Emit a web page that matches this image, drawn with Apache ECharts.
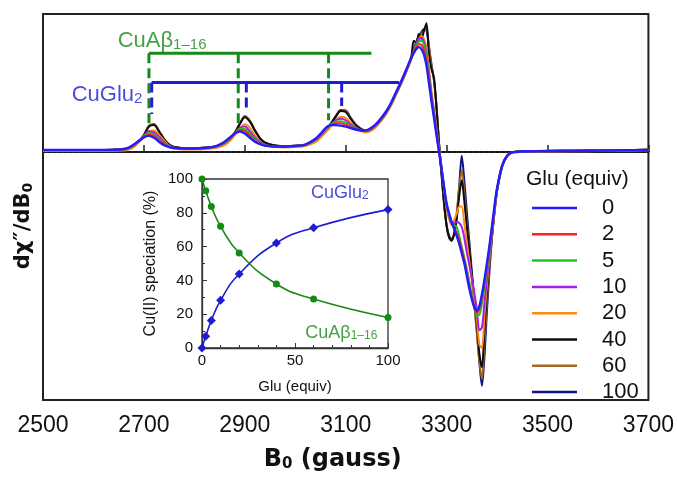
<!DOCTYPE html>
<html><head><meta charset="utf-8">
<script src="https://cdn.jsdelivr.net/npm/echarts@6/dist/echarts.min.js"></script>
<style>html,body{margin:0;padding:0;background:#fff}#c{width:677px;height:477px}</style>
</head><body><div id="c"></div>
<script>
// Magnetic field (gauss)
const field = [2500,2550,2600,2640,2660,2670,2680,2690,2700,2710,
2720,2730,2740,2750,2760,2780,2800,2820,2840,2850,
2860,2870,2880,2890,2900,2910,2920,2930,2940,2960,
2980,3000,3020,3040,3050,3060,3070,3080,3090,3100,
3110,3120,3130,3140,3150,3160,3170,3180,3190,3200,
3210,3220,3230,3235,3240,3245,3250,3255,3260,3265,
3270,3275,3280,3285,3290,3295,3300,3305,3310,3315,
3320,3325,3330,3335,3340,3345,3350,3355,3360,3365,
3370,3375,3380,3385,3390,3395,3400,3410,3420,3430,
3450,3500,3550,3600,3650,3700];

// EPR derivative spectra (arbitrary units), one per Glu equivalent
const glu0 = [2,2,2,2.2,3,4.5,7.5,11.5,15,16.5,
14.5,10.5,7,5,4,3.5,3.5,4,5.5,7.5,
10.5,14.5,19,21,19,14.5,10.5,8,6.5,5.5,
5.5,6,7.5,13.5,18.5,24.5,27.5,27.5,27,26,
24.5,23,22,22,24.5,28.5,34.5,41.5,50.5,61.5,
72.5,84.5,96.5,101.5,105.5,107.5,105.5,100,89,71,
52,35,17,0,-18,-36,-53,-63,-72,-79,
-86,-94,-104,-114,-127,-140,-151,-159,-163,-158,
-146,-131,-114,-96,-76,-55,-37,-14,-4,-0.5,
0.5,1,1,1.3,1.7,2];
const glu2 = [2,2,2,2.2,2.8,4.3,7.3,11.5,15.5,18,
16.5,12,8,5.5,4,3.5,3.5,4,5.5,7.3,
10,14,19,22.5,21.5,16.5,11.5,8.5,6.5,5.5,
5.5,6,7.5,13,18,24,28,29.5,29.5,28,
25.5,23.5,22,21.5,24,28,34,41,50,61,
72,84,96.5,102.5,107.5,110.5,110,105,94,75,
55,37,19,1,-18,-37,-54,-64,-72,-78,
-83,-90,-100,-111,-123,-137,-150,-160,-165,-161,
-150,-134,-117,-98,-78,-57,-38,-14,-4,-0.5,
0.6,1.1,1.2,1.5,1.9,2.3];
const glu5 = [2,2,2,2.2,2.7,4.1,7,11.2,16,19.5,
18,13.5,8.8,6,4.2,3.5,3.5,4,5.3,7,
9.5,13.5,19,23.5,23.5,18.5,13,9,7,5.5,
5.5,6,7.3,12.5,17.5,23,28,31,31.5,30,
26.5,24,22,21.5,23.5,27.5,33.5,40.5,49.5,60.5,
71.5,83.5,96.5,103,109,113,114,110,99,78,
57,39,20,2,-17,-37,-55,-65,-72,-75,
-77,-86,-97,-108,-120,-133,-147,-160,-168,-167,
-156,-139,-121,-101,-80,-58,-39,-15,-4,-0.5,
0.5,1,1.1,1.4,1.8,2.1];
const glu10 = [2,2,2,2.2,2.6,3.9,6.7,11,16.5,21,
20,15.5,10,6.5,4.4,3.5,3.5,3.9,5.1,6.8,
9.2,13,19,24.5,26,21,14.5,10,7.5,5.5,
5.5,6,7.2,12,17,22.5,28,32.5,34,32.5,
28,25,22.5,21.5,23,27,33,40,49,60,
71,83,96,104,111,116,117,113,102,81,
59,41,22,3,-16,-37,-56,-66,-73,-73,
-72,-73,-77,-88,-103,-116,-130,-145,-162,-183,
-180,-155,-130,-106,-83,-60,-40,-15,-4,-0.5,
0.5,1,1.1,1.4,1.8,2.1];
const glu20 = [1,1,1,1.2,1.4,2.4,5,9.5,15.5,21.5,
22,17.5,11.5,6.5,3.5,2.5,2.5,2.8,3.8,5,
7,11,17,24,28.5,25,17,10.5,7,5,
4.5,5,6,10,14.5,20,25.5,32,36,35,
30,25,21.5,20,21.5,25.5,31.5,38.5,47.5,58.5,
69.5,82,95,103,110,116,119,116,107,86,
63,44,24,4,-16,-38,-58,-69,-75,-70,
-63,-56,-56,-73,-93,-112,-131,-151,-172,-198,
-201,-168,-136,-109,-84,-61,-40,-15,-4,-0.5,
0,0.5,0.6,0.9,1.3,1.6];
const glu40 = [2,2,2,2.2,2.6,3.6,6,10.5,17,26,
27.5,21,13,7.5,5,3.8,3.8,4.2,5.2,6.7,
8.8,12.8,19.5,28.5,35.5,31,22,14,9.5,6.5,
6,6.3,7.2,11.8,16.2,21.5,28.5,36,42,41,
34,27.5,23.5,21.5,23,27,33,40,49,60,
71,83,98,114,112,121,116,124,132,100,
85,76,45,8,-22,-52,-76,-88,-91,-84,
-68,-45,-29,-50,-76,-101,-126,-152,-178,-207,
-221,-182,-145,-112,-86,-61,-40,-15,-4,-0.5,
0.6,1,1.2,1.5,1.9,2.2];
const glu60 = [2,2,2,2.2,2.6,3.6,6,10.5,17,26.5,
28,21.5,13.5,7.8,5,3.8,3.8,4.2,5.2,6.6,
8.7,12.7,19.5,28.5,36,32,22.5,14.5,9.8,6.7,
6.1,6.4,7.2,11.6,16,21.5,28.5,36,42.5,42,
35,28,24,21.5,23,27,33,40,49,60,
71,83,96,106,112,118,121,124,127,107,
88,74,47,10,-22,-52,-76,-88,-91,-82,
-62,-36,-19,-42,-72,-100,-129,-157,-186,-215,
-233,-196,-152,-117,-88,-62,-40,-15,-4,-0.5,
0.6,1,1.2,1.5,1.9,2.2];
const glu100 = [2,2,2,2.2,2.6,3.6,5.9,10.3,17,27,
28.5,21.5,13,7.5,5,3.8,3.8,4.2,5.2,6.5,
8.6,12.5,19.5,29,36.5,32,22,14,9.5,6.7,
6.1,6.4,7.2,11.5,15.8,21.3,28.5,36.5,43,42.5,
35,28,24,21.5,23,27,33,40,49,60,
71,83,96,106,113,119,123,126,125,108,
90,73,46,8,-24,-54,-75,-86,-89,-85,
-68,-35,-4,-29,-61,-92,-123,-153,-184,-216,
-240,-210,-163,-122,-87,-60,-39,-15,-4,-0.5,
0.6,1,1.2,1.5,1.9,2.2];

const equivNames = ['0','2','5','10','20','40','60','100'];
const spectra = [glu0, glu2, glu5, glu10, glu20, glu40, glu60, glu100];

// Inset: speciation vs Glu equivalents
const insetGlu = [0,2,5,10,20,40,60,100];
const insetCuGlu2 = [0,6.9,16.2,28.2,43.8,62.1,71.2,81.9];
const insetCuAb = [100,93.1,83.8,72,56.2,37.9,29,18.1];

// Stick diagrams (field positions of hyperfine lines)
const abStickFields = [2710, 2887, 3066];
const abStickEnds = [27.5, 29, 32.5];
const abBarEndField = 3151;
const abLevel = 101.2;
const gluStickFields = [2715.5, 2903, 3092];
const gluStickEnds = [38.8, 40.5, 47.2];
const gluBarEndField = 3206;
const gluLevel = 71.2;

const colors = ['#1e1eff','#ff2020','#1fc41f','#a020e8','#ff8a10','#0c0c0c','#a06a28','#12127e'];
const FONT = 'Liberation Sans, Arial, sans-serif';
const GREEN = '#168a16';
const BLUE = '#1c1cd2';

const series = [];
// zero line
series.push({type:'line', xAxisIndex:0, yAxisIndex:0, data:[[2500,0],[3700,0]], symbol:'none', silent:true,
  lineStyle:{color:'#111', width:2, type:[2,3.4]}, z:1});
for (let i = spectra.length - 1; i >= 0; i--) {
  series.push({name: equivNames[i], type:'line', xAxisIndex:0, yAxisIndex:0, symbol:'none', smooth:0.3,
    data: field.map((b, j) => [b, spectra[i][j]]), lineStyle:{color: colors[i], width: i===0 ? 2.4 : 2},
    itemStyle:{color: colors[i]}, z: 3, silent:true});
}
// stick diagrams
series.push({type:'line', xAxisIndex:0, yAxisIndex:0, symbol:'none', silent:true,
  data:[[abStickFields[0],abLevel],[abBarEndField,abLevel]], lineStyle:{color:GREEN, width:3}, z:4});
abStickFields.forEach((f, k) => series.push({type:'line', xAxisIndex:0, yAxisIndex:0, symbol:'none', silent:true,
  data:[[f,abLevel],[f,abStickEnds[k]]], lineStyle:{color:GREEN, width:3, type:[10,5]}, z:4}));
series.push({type:'line', xAxisIndex:0, yAxisIndex:0, symbol:'none', silent:true,
  data:[[gluStickFields[0],gluLevel],[gluBarEndField,gluLevel]], lineStyle:{color:BLUE, width:3}, z:4});
gluStickFields.forEach((f, k) => series.push({type:'line', xAxisIndex:0, yAxisIndex:0, symbol:'none', silent:true,
  data:[[f,gluLevel],[f,gluStickEnds[k]]], lineStyle:{color:BLUE, width:3, type:[10,5]}, z:4}));

function labelPoint(xi, yi, pt, fmt, color, big, small) {
  return {type:'scatter', xAxisIndex:xi, yAxisIndex:yi, symbolSize:1, itemStyle:{color:'rgba(0,0,0,0)'}, silent:true, z:10,
    data:[pt], label:{show:true, position:'inside', formatter: fmt,
      rich:{m:{fontSize:big, color:color, fontFamily:FONT, lineHeight:big+4},
            s:{fontSize:small, color:color, fontFamily:FONT, lineHeight:big+4, padding:[Math.round(big*0.35),0,0,0]}}}};
}
series.push(labelPoint(0,0,[2736,113.8],'{m|CuAβ}{s|1–16}',GREEN,22,15));
series.push(labelPoint(0,0,[2627,58.8],'{m|CuGlu}{s|2}',BLUE,22,15));

// inset
series.push({type:'line', xAxisIndex:1, yAxisIndex:1, smooth:true, symbol:'diamond', symbolSize:9, silent:true,
  data: insetGlu.map((g,k)=>[g, insetCuGlu2[k]]), lineStyle:{color:BLUE, width:1.6}, itemStyle:{color:BLUE}, z:5});
series.push({type:'line', xAxisIndex:1, yAxisIndex:1, smooth:true, symbol:'circle', symbolSize:7, silent:true,
  data: insetGlu.map((g,k)=>[g, insetCuAb[k]]), lineStyle:{color:GREEN, width:1.6}, itemStyle:{color:GREEN}, z:5});
series.push(labelPoint(1,1,[74.1,91.9],'{m|CuGlu}{s|2}',BLUE,18,12));
series.push(labelPoint(1,1,[74.9,9.1],'{m|CuAβ}{s|1–16}',GREEN,18,12));

const chart = echarts.init(document.getElementById('c'), null, {renderer:'canvas'});
chart.setOption({
  animation:false,
  backgroundColor:'#fff',
  title:{text:'Glu (equiv)', left:521, top:164, textStyle:{fontSize:21, fontWeight:'normal', color:'#111', fontFamily:FONT}},
  legend:{orient:'vertical', left:527, top:192, itemWidth:45, itemHeight:2.5, itemGap:4.3, icon:'rect', selectedMode:false,
    data: equivNames, textStyle:{fontSize:22, lineHeight:22, color:'#111', fontFamily:FONT, padding:[0,0,0,20]}},
  grid:[
    {left:43, top:14, width:607, height:396, show:true, borderColor:'#222', borderWidth:2},
    {left:202, top:179, width:186, height:169, show:true, borderColor:'#333', borderWidth:1.3, backgroundColor:'rgba(255,255,255,0)'}
  ],
  xAxis:[
    {type:'value', gridIndex:0, min:2500, max:3700, interval:200,
     axisLine:{show:true, lineStyle:{color:'#222', width:2}},
     axisTick:{show:true, inside:true, length:7, lineStyle:{color:'#222', width:1.5}},
     axisLabel:{fontSize:23, color:'#111', fontFamily:FONT, margin:14, formatter: v => String(v)},
     splitLine:{show:false},
     name:'{b|B}{s|0}{b| (gauss)}', nameLocation:'middle', nameGap:48,
     nameTextStyle:{padding:[0,26,0,0], rich:{b:{fontSize:24, fontWeight:'bold', color:'#111', fontFamily:'DejaVu Sans'},
                          s:{fontSize:15, fontWeight:'bold', color:'#111', fontFamily:'DejaVu Sans', padding:[9,0,0,0]}}}},
    {type:'value', gridIndex:1, min:0, max:100, interval:50,
     axisLine:{show:true, lineStyle:{color:'#333', width:1.3}},
     axisTick:{show:true, inside:true, length:5, lineStyle:{color:'#333'}},
     minorTick:{show:true, splitNumber:5, length:3, lineStyle:{color:'#333'}},
     axisLabel:{fontSize:15, color:'#111', fontFamily:FONT, margin:5},
     splitLine:{show:false},
     name:'Glu (equiv)', nameLocation:'middle', nameGap:31,
     nameTextStyle:{fontSize:15, color:'#111', fontFamily:FONT}}
  ],
  yAxis:[
    {type:'value', gridIndex:0, min:-254.5, max:141.5,
     axisLine:{show:false}, axisTick:{show:false}, axisLabel:{show:false}, splitLine:{show:false},
     name:'{b|dχ″/dB}{s|0}', nameLocation:'middle', nameGap:8, nameRotate:90,
     nameTextStyle:{padding:[0,38,0,0], rich:{b:{fontSize:21, fontWeight:'bold', color:'#111', fontFamily:'DejaVu Sans'},
                          s:{fontSize:14, fontWeight:'bold', color:'#111', fontFamily:'DejaVu Sans', padding:[8,0,0,0]}}}},
    {type:'value', gridIndex:1, min:0, max:100, interval:20,
     axisLine:{show:true, lineStyle:{color:'#333', width:1.3}},
     axisTick:{show:true, inside:true, length:5, lineStyle:{color:'#333'}},
     minorTick:{show:true, splitNumber:2, length:3, lineStyle:{color:'#333'}},
     axisLabel:{fontSize:15, color:'#111', fontFamily:FONT, margin:9},
     splitLine:{show:false},
     name:'Cu(II) speciation (%)', nameLocation:'middle', nameGap:43, nameRotate:90,
     nameTextStyle:{fontSize:16, color:'#111', fontFamily:FONT}}
  ],
  series: series
});
</script></body></html>
